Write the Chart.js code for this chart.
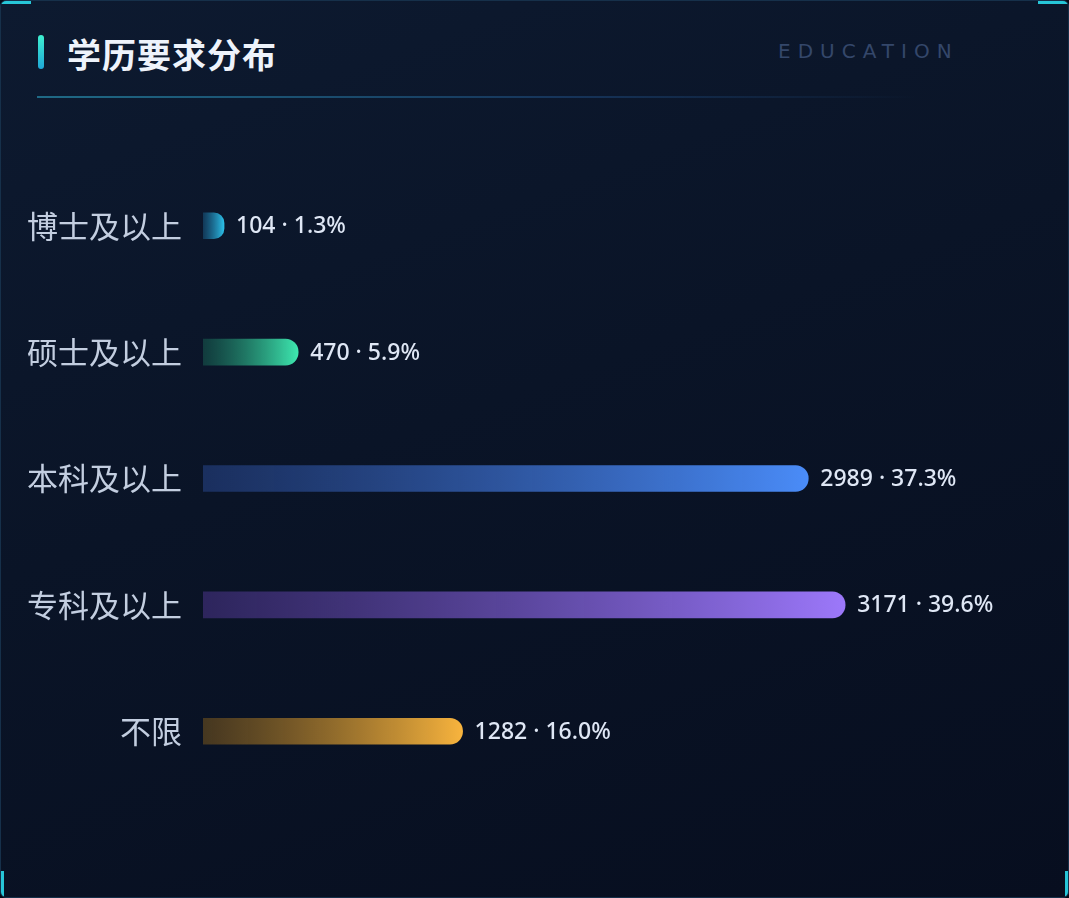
<!DOCTYPE html>
<html>
<head>
<meta charset="utf-8">
<script src="https://cdn.jsdelivr.net/npm/chart.js@4"></script>
<style>
  html, body { margin: 0; padding: 0; background: #050a16; }
  .panel {
    position: absolute; left: 0; top: 0; width: 1067px; height: 896px;
    border: 1px solid #16304a; border-radius: 6px;
    background: linear-gradient(160deg, #0d1a30 0%, #0a1427 45%, #070e1f 100%);
    overflow: hidden;
  }
  .corner { position: absolute; width: 26px; height: 3px; background: #27c6d8; }
  .title-bar { position: absolute; left: 37px; top: 34px; width: 6px; height: 34px; border-radius: 3px;
    background: linear-gradient(180deg, #3ef0d0, #1fa8d8); }
  .title { position: absolute; left: 66px; top: 28px; font: bold 34px "Noto Sans CJK SC", sans-serif; color: #eef3fb; letter-spacing: 1px; }
  .sub { position: absolute; left: 777px; top: 38px; font: 20px "DejaVu Sans", sans-serif; color: #34476a; letter-spacing: 7px; }
  .rule { position: absolute; left: 36px; top: 95px; width: 880px; height: 2px;
    background: linear-gradient(90deg, #1f6a86, #16345a 60%, rgba(20,40,70,0)); }
  #chart { position: absolute; left: 0; top: 131px; }
</style>
</head>
<body>
<div class="panel">
  <div class="corner" style="left:0;top:0;width:30px"></div>
  <div class="corner" style="right:0;top:0;width:30px"></div>
  <div class="corner" style="left:0;bottom:0;width:3px;height:26px"></div>
  <div class="corner" style="right:0;bottom:0;width:3px;height:26px"></div>
  <div class="title-bar"></div>
  <div class="title">学历要求分布</div>
  <div class="sub">EDUCATION</div>
  <div class="rule"></div>
</div>
<canvas id="chart" width="1069" height="695"></canvas>
<script>
const categories = ['博士及以上', '硕士及以上', '本科及以上', '专科及以上', '不限'];
const counts = [104, 470, 2989, 3171, 1282];
const shares = ['1.3%', '5.9%', '37.3%', '39.6%', '16.0%'];
const colors = ['#2cc0e8', '#3ee8b0', '#4a8cf8', '#9c78fa', '#f8b43e'];
const darks = ['rgba(30,120,170,0.35)', 'rgba(30,130,100,0.35)', 'rgba(40,70,140,0.55)', 'rgba(70,50,130,0.6)', 'rgba(110,80,30,0.6)'];

const ctx = document.getElementById('chart');

const valueLabels = {
  id: 'valueLabels',
  afterDatasetsDraw(chart) {
    const c = chart.ctx;
    const meta = chart.getDatasetMeta(0);
    c.save();
    c.font = '500 23px "Noto Sans", sans-serif';
    c.fillStyle = '#dfe7f5';
    c.textBaseline = 'middle';
    meta.data.forEach((bar, i) => {
      c.fillText(counts[i] + ' · ' + shares[i], bar.x + 12, bar.y + 1);
    });
    c.restore();
  }
};

new Chart(ctx, {
  type: 'bar',
  data: {
    labels: categories,
    datasets: [{
      data: counts,
      barThickness: 26,
      borderRadius: { topRight: 13, bottomRight: 13 },
      borderSkipped: false,
      backgroundColor(context) {
        const chart = context.chart;
        const area = chart.chartArea;
        const x = chart.scales.x;
        if (!area || !x) return colors[context.dataIndex];
        const end = x.getPixelForValue(counts[context.dataIndex]);
        const g = chart.ctx.createLinearGradient(area.left, 0, Math.max(end, area.left + 1), 0);
        g.addColorStop(0, darks[context.dataIndex]);
        g.addColorStop(1, colors[context.dataIndex]);
        return g;
      }
    }]
  },
  options: {
    indexAxis: 'y',
    responsive: false,
    animation: false,
    layout: { padding: { left: 0, right: 56, top: 0, bottom: 0 } },
    plugins: { legend: { display: false }, tooltip: { enabled: false } },
    scales: {
      x: { min: 0, max: 4000, display: false, grid: { display: false } },
      y: {
        grid: { display: false },
        border: { display: false },
        afterFit(scale) { scale.width = 203; },
        ticks: {
          color: '#c3cee0',
          padding: 13,
          font: { size: 31, family: '"Noto Sans CJK SC", sans-serif' }
        }
      }
    }
  },
  plugins: [valueLabels]
});
</script>
</body>
</html>
